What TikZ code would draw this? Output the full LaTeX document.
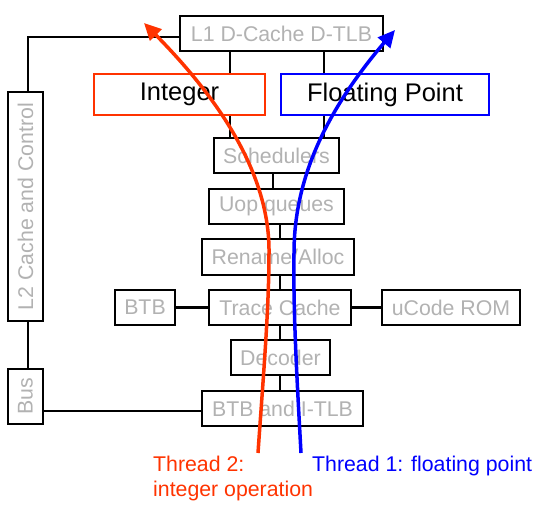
\documentclass[tikz,border=0pt]{standalone}
\usepackage{fontspec}
\setmainfont{Liberation Sans}
\usetikzlibrary{arrows.meta}
\definecolor{boxtxt}{RGB}{178,178,178}
\definecolor{intred}{RGB}{255,51,0}
\definecolor{fpblue}{RGB}{0,0,255}
\begin{document}
\begin{tikzpicture}[x=1pt,y=-1pt,
  ubox/.style={draw=black, line width=2.7pt, fill=white, text=boxtxt, inner sep=0pt, font=\fontsize{21.3}{25}\selectfont},
  exbox/.style={draw=#1, line width=2.4pt, fill=white, text=black, inner sep=0pt, font=\fontsize{25.5}{30}\selectfont},
  link/.style={draw=black, line width=2.2pt},
  tpath/.style={draw=#1, line width=3.5pt, -{Triangle[length=17pt,width=16pt]}},
  lbl/.style={text=#1, inner sep=0pt, font=\fontsize{21.3}{25}\selectfont, align=left}
]
\useasboundingbox (0,0) rectangle (546,506);
% units
\node[ubox, minimum width=203pt, minimum height=35pt] (L1) at (281.5,33.5) {L1 D-Cache D-TLB};
\node[exbox=intred, minimum width=171pt, minimum height=41pt] (Int) at (179.5,94.5) {Integer};
\node[exbox=fpblue, minimum width=208pt, minimum height=41pt] (FP) at (385,94.5) {Floating Point};
\node[ubox, rotate=90, minimum width=229pt, minimum height=35pt] (L2) at (25.5,206.5) {L2 Cache and Control};
\node[ubox, rotate=90, minimum width=55pt, minimum height=35pt] (Bus) at (25.5,396.5) {Bus};
\node[ubox, minimum width=125pt, minimum height=35pt] (Sch) at (276.5,155.5) {Schedulers};
\node[ubox, minimum width=135pt, minimum height=35pt] (Uop) at (276.5,206.5) {Uop queues};
\node[ubox, minimum width=152pt, minimum height=36pt] (Ren) at (278,257) {Rename/Alloc};
\node[ubox, minimum width=60pt, minimum height=35pt] (BTB) at (145,307.5) {BTB};
\node[ubox, minimum width=142pt, minimum height=35pt] (TC) at (280,307.5) {Trace Cache};
\node[ubox, minimum width=138pt, minimum height=35pt] (ROM) at (451,307.5) {uCode ROM};
\node[ubox, minimum width=99pt, minimum height=35pt] (Dec) at (280.5,357.5) {Decoder};
\node[ubox, minimum width=161pt, minimum height=35pt] (BTBI) at (282.5,408.5) {BTB and I-TLB};
% helper x positions
\coordinate (xa) at (230,0);
\coordinate (xb) at (324,0);
\coordinate (xc) at (273,0);
\coordinate (xd) at (280,0);
% connectors
\draw[link] ([yshift=-3.5pt]L1.west) -| ([xshift=2.5pt]L2.east);
\draw[link] ([xshift=2.5pt]L2.west) -- ([xshift=2.5pt]Bus.east);
\draw[link] ([yshift=-2.5pt]BTBI.west) -- ([yshift=-2.5pt]BTBI.west -| Bus.south);
\draw[link] (L1.south -| xa) -- (Int.north -| xa);
\draw[link] (Int.south -| xa) -- (Sch.north -| xa);
\draw[link] (L1.south -| xb) -- (FP.north -| xb);
\draw[link] (FP.south -| xb) -- (Sch.north -| xb);
\draw[link] (Sch.south -| xc) -- (Uop.north -| xc);
\draw[link] (Uop.south -| xd) -- (Ren.north -| xd);
\draw[link] (Ren.south -| xd) -- (TC.north -| xd);
\draw[link] (TC.south -| xd) -- (Dec.north -| xd);
\draw[link] (Dec.south -| xd) -- (BTBI.north -| xd);
\draw[link] (BTB) -- (TC);
\draw[link] (TC) -- (ROM);
% thread paths
\coordinate (r0) at (258,453);
\coordinate (rm) at (269,253);
\coordinate (rt) at (144,23);
\coordinate (b0) at (301,453);
\coordinate (bm) at (294,253);
\coordinate (bt) at (395,30);
\draw[tpath=intred] (r0) .. controls (263,380) and (269,310) .. (rm) .. controls (270,175) and (220,100) .. (rt);
\draw[tpath=fpblue] (b0) .. controls (297,380) and (293,310) .. (bm) .. controls (294,180) and (325,112) .. (bt);
% labels
\node[lbl=intred, anchor=base west] (t2) at (153,496) {Thread 2:\\integer operation};
\node[lbl=fpblue, anchor=base west] (t1) at (312,471) {Thread 1: floating point};
\end{tikzpicture}
\end{document}
